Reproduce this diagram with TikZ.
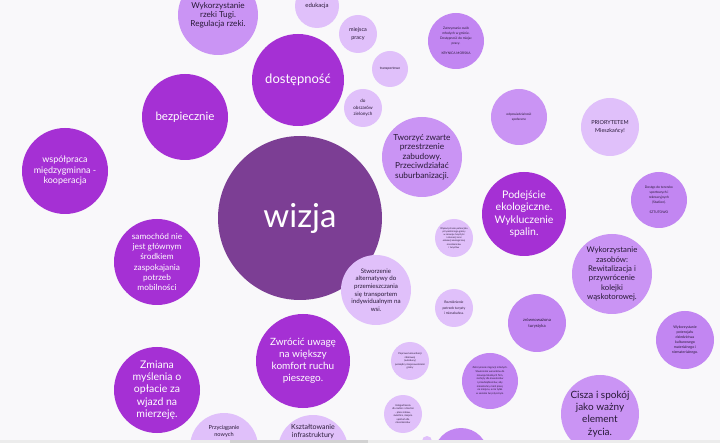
\documentclass[tikz,border=0pt]{standalone}
\usepackage{fontspec}
\setmainfont{Lato}
\usepackage{tikz}
\usetikzlibrary{positioning}
\definecolor{wizjac}{RGB}{124,62,148}
\definecolor{vividc}{RGB}{165,48,212}
\definecolor{midc}{RGB}{194,134,242}
\definecolor{softc}{RGB}{202,148,244}
\definecolor{lightc}{RGB}{224,192,250}
\definecolor{inkc}{RGB}{40,25,55}
\definecolor{bgc}{RGB}{249,248,250}
\newcommand{\fsz}[2]{\fontsize{#1}{#2}\selectfont}
\tikzset{
    bubble/.style={circle, inner sep=0pt, align=center},
    core/.style={bubble, fill=wizjac, text=white},
    vivid/.style={bubble, fill=vividc, text=white},
    mid/.style={bubble, fill=midc, text=inkc},
    soft/.style={bubble, fill=softc, text=inkc},
    light/.style={bubble, fill=lightc, text=inkc},
    note/.style={inner sep=0pt, align=center, text=inkc},
}
\begin{document}
\begin{tikzpicture}[x=1pt, y=-1pt]
        \fill [bgc] (0,0) rectangle (720,443);
        \clip (0,0) rectangle (720,443);
        \node [core, minimum size=164pt, font=\fsz{33}{36}] (wizja) at (300,218) {wizja};
        \node [vivid, minimum size=92pt, font=\fsz{13}{15}] (dost) at (298,80) {dostępność};
        \node [soft, minimum size=80pt, font=\fsz{8.2}{9}] (tuga) at (218,15) {Wykorzystanie\\rzeki Tugi.\\Regulacja rzeki.};
        \node [light, minimum size=44pt, font=\fsz{6}{7}] (eduk) at (317,6) {edukacja};
        \node [light, minimum size=38pt, font=\fsz{5.5}{7.7}] (praca) at (358,34) {miejsca\\pracy};
        \node [light, minimum size=36pt, font=\fsz{3.4}{4}] (transp) at (390,69) {transportowe};
        \node [light, minimum size=38pt, font=\fsz{4.6}{6.7}] (ziel) at (363,108) {do\\obszarów\\zielonych};
        \node [vivid, minimum size=86pt, font=\fsz{11.5}{13}] (bezp) at (185,117) {bezpiecznie};
        \node [vivid, minimum size=86pt, font=\fsz{9}{10.5}] (wspol) at (65,171) {współpraca\\międzygminna -\\kooperacja};
        \node [vivid, minimum size=86pt, font=\fsz{8.3}{10.3}] (samoch) at (157,262) {samochód nie\\jest głównym\\środkiem\\zaspokajania\\potrzeb\\mobilności};
        \node [vivid, minimum size=86pt, font=\fsz{10.5}{12.3}] (zmiana) at (157,390) {Zmiana\\myślenia o\\opłacie za\\wjazd na\\mierzeję.};
        \node [vivid, minimum size=94pt, font=\fsz{10}{12}] (piesz) at (303,361) {Zwrócić uwagę\\na większy\\komfort ruchu\\pieszego.};
        \node [light, minimum size=68pt] (przyc) at (224,447) {};
        \node [note, font=\fsz{5.6}{7.3}, below=12pt of przyc.north] (przyct) {Przyciąganie\\nowych};
        \node [light, minimum size=70pt] (kszt) at (313,450) {};
        \node [note, font=\fsz{7}{8.8}, below=9pt of kszt.north] (ksztt) {Kształtowanie\\infrastruktury};
        \node [soft, minimum size=80pt, font=\fsz{8.3}{9.5}] (zwarte) at (422,157) {Tworzyć zwarte\\przestrzenie\\zabudowy.\\Przeciwdziałać\\suburbanizacji.};
        \node [soft, minimum size=56pt, font=\fsz{3.2}{5}] (odpow) at (519,117) {odpowiedzialność\\społeczne};
        \node [mid, minimum size=56pt, font=\fsz{3.3}{5}] (mlodzi) at (456,41) {Zatrzymanie osób\\młodych w gminie.\\Dostępność do miejsc\\pracy.\\[5pt]KRYNICA MORSKA};
        \node [light, minimum size=58pt, font=\fsz{5.5}{7.7}] (prior) at (610,127) {PRIORYTETEM\\Mieszkańcy!};
        \node [vivid, minimum size=84pt, font=\fsz{10.5}{12.3}] (ekol) at (524,214) {Podejście\\ekologiczne.\\Wykluczenie\\spalin.};
        \node [mid, minimum size=56pt, font=\fsz{3.3}{5}] (stadion) at (659,200) {Dostęp do terenów\\sportowych i\\rekreacyjnych\\(Stadion).\\[5pt]SZTUTOWO};
        \node [light, minimum size=38pt, font=\fsz{2.4}{3.2}] (przyr) at (454,238) {Wykorzystanie potencjału\\przyrodniczego gminy\\w rozwoju turystyki\\i rekreacji oraz\\edukacji ekologicznej\\mieszkańców\\i turystów};
        \node [light, minimum size=38pt, font=\fsz{3.4}{5.3}] (turysta) at (454,308) {Rozróżnienie\\potrzeb turysty\\i mieszkańca.};
        \node [mid, minimum size=58pt, font=\fsz{4.2}{6}] (zrown) at (537,323) {zrównoważona\\turystyka};
        \node [soft, minimum size=80pt, font=\fsz{7.8}{9.4}] (kolejka) at (612,274) {Wykorzystanie\\zasobów:\\Rewitalizacja i\\przywrócenie\\kolejki\\wąskotorowej.};
        \node [mid, minimum size=58pt, font=\fsz{3.6}{5.1}] (dziedz) at (685,340) {Wykorzystanie\\potencjału\\dziedzictwa\\kulturowego\\materialnego i\\niematerialnego.};
        \node [soft, minimum size=78pt, font=\fsz{10}{12.3}] (cisza) at (600,414) {Cisza i spokój\\jako ważny\\element\\życia.};
        \node [light, minimum size=70pt, font=\fsz{6.2}{7.6}] (alter) at (376,290) {Stworzenie\\alternatywy do\\przemieszczania\\się transportem\\indywidualnym na\\wsi.};
        \node [light, minimum size=38pt, font=\fsz{2.5}{3.4}] (komun) at (410,361) {Poprawa komunikacji\\zbiorowej\\(autobusy)\\pomiędzy miejscowościami\\gminy};
        \node [mid, minimum size=56pt, font=\fsz{2.6}{3.7}] (migr) at (490,381) {Zatrzymanie migracji młodych.\\Stworzenie warunków do\\rozwoju lokalnych firm,\\zachęty dla inwestorów\\i przedsiębiorców, aby\\mieszkańcy mieli pracę\\na miejscu, a nie tylko\\w sezonie turystycznym.};
        \node [light, minimum size=38pt, font=\fsz{2.5}{3.4}] (dzieci) at (403,414) {Udogodnienia\\dla rodzin z dziećmi\\- place zabaw,\\świetlice, miejsca\\spotkań dla\\mieszkańców};
        \node [mid, minimum size=54pt] (dol) at (461,455) {};
        \node [light, minimum size=10pt] (kropka) at (427,441) {};
        \fill [gray!15] (0,440) rectangle (720,443);
        \fill [gray!35] (230,440) rectangle (368,443);
    \end{tikzpicture}
\end{document}
